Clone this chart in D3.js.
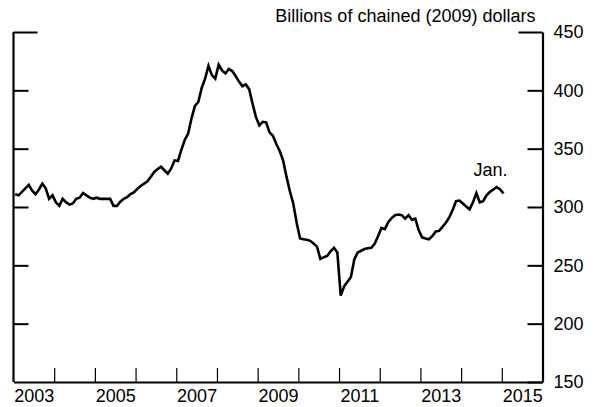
<!DOCTYPE html>
<html><head><meta charset="utf-8">
<script src="https://cdn.jsdelivr.net/npm/d3@7"></script>
<style>
html,body{margin:0;padding:0;background:#fff;}
svg{display:block;font-family:"Liberation Sans",Arial,sans-serif;}
</style></head>
<body>
<svg id="chart" width="597" height="407"></svg>
<script>
// Monthly values, Jan 2003 .. Jan 2015 (billions of chained 2009 dollars)
const startYear = 2003;
const values = [
 311,310,313,316,319,314,311,315,320,316,307,310,   // 2003
 304,301,307,304,302,303,307,308,312,310,308,307,   // 2004
 308,307,307,307,307,301,301,304.5,307,308.5,311,312.5, // 2005
 315.5,318,320,322,326,330,332.5,334.5,331.5,328.5,333,340, // 2006
 339.5,349,357.5,363,376,386.7,390,402,410,421,413,410, // 2007
 422,417,414.5,418.3,416.5,412.3,407.5,403.5,405,401,388.5,377, // 2008
 370,373,372.5,364,361,354,348,340,326,313.5,303,286.5, // 2009
 273,272.4,272,271,268.7,266,255.5,257,258,262,265,261, // 2010
 224,232,236,240,255,261,262.5,264,264.6,265,268.5,275, // 2011
 282,281,287,290.5,293,293.5,293,290,293,289,290,280, // 2012
 274,273,272.3,275,279,279.5,283,286.5,291,297.5,305,305.5, // 2013
 303,300.5,298,304,312,304,305,310,313,315,317,315, // 2014
 311.7 // Jan 2015
];
const yTicks = [150,200,250,300,350,400,450];
const yearLabels = [2003,2005,2007,2009,2011,2013,2015];
const yearTicks = [2004,2005,2006,2007,2008,2009,2010,2011,2012,2013,2014,2015];
const unitLabel = "Billions of chained (2009) dollars";
const endLabel = "Jan.";

const data = values.map((v,i)=>({t: startYear + (i+0.5)/12, v}));

const svg = d3.select("#chart");
const x = d3.scaleLinear().domain([2003,2016]).range([13.5,542.5]);
const y = d3.scaleLinear().domain([150,450]).range([382,32]);
const FS = 18;

// left axis (ticks inward, no labels)
const gl = svg.append("g").attr("transform",`translate(${x(2003)},0)`)
  .call(d3.axisLeft(y).tickValues(yTicks.filter(d=>d>150)).tickSizeInner(-15).tickSizeOuter(0).tickFormat(""));
// right axis
const gr = svg.append("g").attr("transform",`translate(${x(2016)},0)`)
  .call(d3.axisRight(y).tickValues(yTicks).tickSizeInner(-15).tickSizeOuter(0).tickPadding(11).tickFormat(d3.format("d")));
// bottom axis ticks
const gb = svg.append("g").attr("transform",`translate(0,${y(150)})`)
  .call(d3.axisBottom(x).tickValues(yearTicks).tickSizeInner(-14).tickSizeOuter(0).tickFormat(""));
// bottom labels at mid-year
const gbl = svg.append("g").attr("transform",`translate(0,${y(150)})`)
  .call(d3.axisBottom(x).tickValues(yearLabels.map(d=>d+0.5)).tickSize(0).tickPadding(7).tickFormat(d=>String(Math.floor(d))));
gbl.select(".domain").remove();

[gl,gr,gb].forEach(g=>{
  g.select(".domain").attr("stroke","#000").attr("stroke-width",2.2);
  g.selectAll(".tick line").attr("stroke","#000").attr("stroke-width",2);
});
gb.selectAll(".tick line").attr("stroke-width",1.2);
// long tick at top
gl.selectAll(".tick").filter(d=>d===450).select("line").attr("x2",24);
gr.selectAll(".tick").filter(d=>d===450).select("line").attr("x2",-24);
gl.select(".domain").attr("d",`M0,${y(450)}V${y(150)}`);

svg.selectAll(".tick text").attr("font-size",FS).attr("fill","#000").attr("font-family","\"Liberation Sans\",Arial,sans-serif");

// line
svg.append("path").datum(data)
  .attr("fill","none").attr("stroke","#000").attr("stroke-width",2.6).attr("stroke-linejoin","miter")
  .attr("d", d3.line().x(d=>x(d.t)).y(d=>y(d.v)));

// unit label
svg.append("text").attr("x",x(2016)-7).attr("y",22).attr("text-anchor","end")
  .attr("font-size",FS).text(unitLabel);
// Jan. label
const last = data[data.length-1];
svg.append("text").attr("x",x(last.t)-13).attr("y",y(last.v)-17).attr("text-anchor","middle")
  .attr("font-size",FS).text(endLabel);
</script>
</body></html>
